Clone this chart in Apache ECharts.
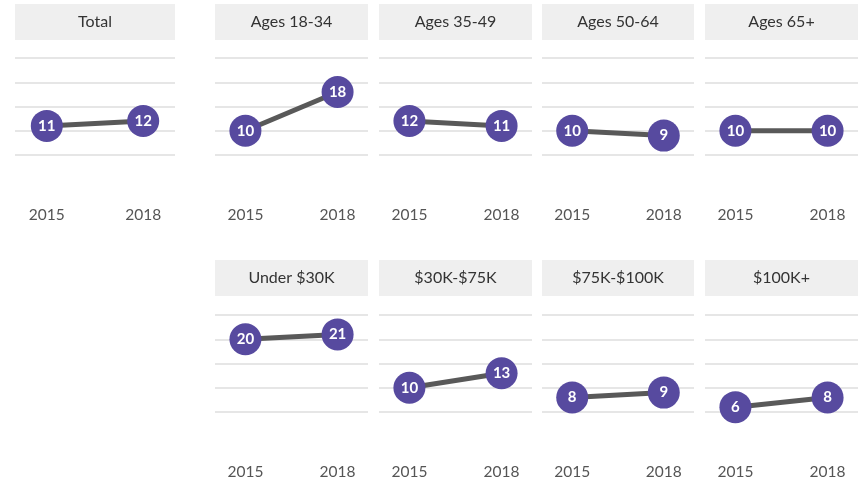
<!DOCTYPE html>
<html>
<head>
<meta charset="utf-8">
<script src="https://cdn.jsdelivr.net/npm/echarts@6/dist/echarts.min.js"></script>
<style>
  html, body { margin: 0; padding: 0; background: #fff; }
  #chart { width: 861px; height: 485px; }
</style>
</head>
<body>
<div id="chart"></div>
<script>
// data
var panels = ['Total', 'Ages 18-34', 'Ages 35-49', 'Ages 50-64', 'Ages 65+',
              'Under $30K', '$30K-$75K', '$75K-$100K', '$100K+'];
var years = ['2015', '2018'];
var v2015 = [11, 10, 12, 10, 10, 20, 10, 8, 6];
var v2018 = [12, 18, 11, 9, 10, 21, 13, 9, 8];
var yTicks = [5, 10, 15, 20, 25];

// layout of each small panel: left, width, row
var boxes = [
  [15, 160, 0], [215, 153, 0], [379, 153, 0], [542, 152, 0], [705, 153, 0],
  [215, 153, 1], [379, 153, 1], [542, 152, 1], [705, 153, 1]
];
var rowHead = [4, 260];   // header top
var rowGrid = [58, 315];  // top gridline

var font = 'Lato, "Noto Sans", sans-serif';
var grids = [], xAxes = [], yAxes = [], series = [], graphics = [];

panels.forEach(function (name, i) {
  var b = boxes[i];
  grids.push({ left: b[0], width: b[1], top: rowGrid[b[2]], height: 97 });

  xAxes.push({
    gridIndex: i, type: 'value', min: -0.33, max: 1.33,
    axisLine: { show: false }, axisTick: { show: false }, splitLine: { show: false },
    axisLabel: {
      customValues: [0, 1], margin: 52,
      formatter: function (v) { return years[Math.round(v)]; },
      color: '#555', fontSize: 15.5, fontFamily: font
    }
  });
  yAxes.push({
    gridIndex: i, type: 'value', min: yTicks[0], max: yTicks[yTicks.length - 1], interval: 5,
    axisLine: { show: false }, axisTick: { show: false }, axisLabel: { show: false },
    splitLine: { show: true, lineStyle: { color: '#e6e6e6', width: 2 } }
  });
  series.push({
    type: 'line', xAxisIndex: i, yAxisIndex: i,
    data: [[0, v2015[i]], [1, v2018[i]]],
    lineStyle: { color: '#595959', width: 5 },
    symbol: 'circle', symbolSize: 32,
    itemStyle: { color: '#574a9f' },
    label: {
      show: true, position: 'inside', color: '#fff', fontWeight: 'bold',
      fontSize: 15, fontFamily: font,
      formatter: function (p) { return p.value[1]; }
    },
    emphasis: { disabled: true },
    animation: false, z: 3
  });

  graphics.push({
    type: 'rect', left: b[0], top: rowHead[b[2]],
    shape: { width: b[1], height: 36 },
    style: { fill: '#efefef' }
  });
  graphics.push({
    type: 'text', x: b[0] + b[1] / 2, y: rowHead[b[2]] + 18,
    style: { text: name, fill: '#333', font: '16px ' + font, textAlign: 'center', textVerticalAlign: 'middle' }
  });
});

var myChart = echarts.init(document.getElementById('chart'));
myChart.setOption({
  animation: false,
  grid: grids, xAxis: xAxes, yAxis: yAxes, series: series,
  graphic: graphics
});
</script>
</body>
</html>
